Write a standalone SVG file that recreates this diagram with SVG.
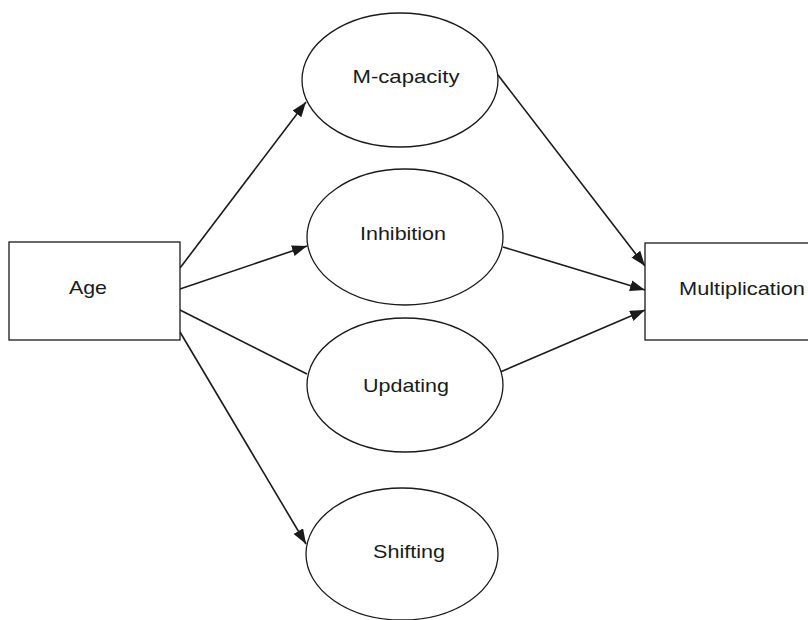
<svg xmlns="http://www.w3.org/2000/svg" width="808" height="620" viewBox="0 0 808 620">
  <style>
    .box { fill: #ffffff; stroke: #1a1a1a; stroke-width: 1.3; }
    .node { fill: #ffffff; stroke: #1a1a1a; stroke-width: 1.3; }
    .label { font-family: "Liberation Sans", Arial, sans-serif; font-size: 19px; fill: #1a1a1a; text-anchor: middle; }
    .edge { stroke: #1a1a1a; stroke-width: 1.6; fill: none; }
  </style>
  <defs>
    <marker id="arrow" markerUnits="userSpaceOnUse" markerWidth="16" markerHeight="12" refX="15" refY="5.5" orient="auto">
      <path d="M0,0 L15,5.5 L0,11 z" fill="#1a1a1a"/>
    </marker>
  </defs>
  <rect width="808" height="620" fill="#ffffff"/>

  <g id="connectors">
    <line class="edge" x1="180" y1="268" x2="306" y2="102" marker-end="url(#arrow)"/>
    <line class="edge" x1="180" y1="289" x2="307" y2="246" marker-end="url(#arrow)"/>
    <line class="edge" x1="180" y1="310" x2="307" y2="374"/>
    <line class="edge" x1="180" y1="332" x2="306" y2="544" marker-end="url(#arrow)"/>
    <line class="edge" x1="498" y1="75" x2="645" y2="266" marker-end="url(#arrow)"/>
    <line class="edge" x1="503" y1="247" x2="645" y2="290" marker-end="url(#arrow)"/>
    <line class="edge" x1="498" y1="373" x2="645" y2="310" marker-end="url(#arrow)"/>
  </g>

  <g id="age">
    <rect class="box" x="9" y="242" width="171" height="98"/>
    <text class="label" x="88" y="294" textLength="38" lengthAdjust="spacingAndGlyphs">Age</text>
  </g>

  <g id="multiplication">
    <rect class="box" x="645" y="243" width="170" height="97"/>
    <text class="label" x="742" y="295" textLength="126" lengthAdjust="spacingAndGlyphs">Multiplication</text>
  </g>

  <g id="m-capacity">
    <ellipse class="node" cx="400" cy="80" rx="98" ry="67"/>
    <text class="label" x="406" y="83" textLength="107" lengthAdjust="spacingAndGlyphs">M-capacity</text>
  </g>

  <g id="inhibition">
    <ellipse class="node" cx="405" cy="237" rx="98" ry="68"/>
    <text class="label" x="403" y="240" textLength="86" lengthAdjust="spacingAndGlyphs">Inhibition</text>
  </g>

  <g id="updating">
    <ellipse class="node" cx="405" cy="385" rx="98" ry="67"/>
    <text class="label" x="406" y="392" textLength="86" lengthAdjust="spacingAndGlyphs">Updating</text>
  </g>

  <g id="shifting">
    <ellipse class="node" cx="402" cy="554" rx="96" ry="66"/>
    <text class="label" x="409" y="558" textLength="72" lengthAdjust="spacingAndGlyphs">Shifting</text>
  </g>
</svg>
